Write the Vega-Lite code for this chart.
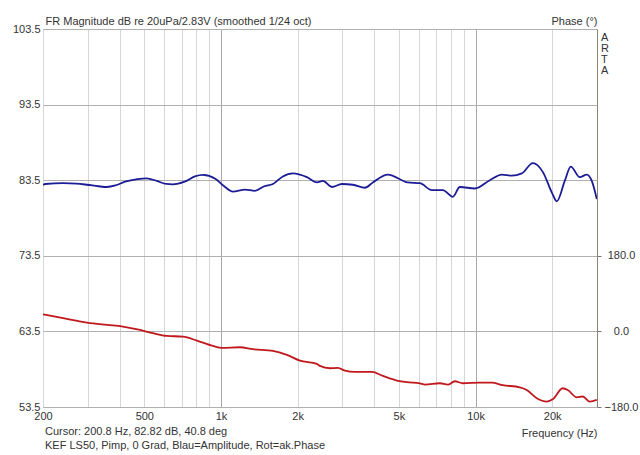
{
  "$schema": "https://vega.github.io/schema/vega-lite/v6.json",
  "width": 554,
  "height": 378,
  "autosize": "none",
  "padding": {"left": 43, "top": 29, "right": 43, "bottom": 48},
  "background": "white",
  "config": {
    "font": "Liberation Sans",
    "view": {"stroke": "#8a846c", "strokeWidth": 1},
    "axis": {"labelFont": "Liberation Sans", "titleFont": "Liberation Sans", "labelFontSize": 11, "titleFontSize": 11, "labelColor": "#333", "titleColor": "#333", "titleFontWeight": "normal", "domain": false}
  },
  "title": {
    "text": ["Cursor: 200.8 Hz, 82.82 dB, 40.8 deg", "KEF LS50, Pimp, 0 Grad, Blau=Amplitude, Rot=ak.Phase"],
    "orient": "bottom", "anchor": "start", "frame": "group", "offset": -12, "dx": 2,
    "fontSize": 11, "fontWeight": "normal", "color": "#333", "font": "Liberation Sans", "lineHeight": 14
  },
  "datasets": {
    "mag": [
      {"f": 200, "db": 82.85}, {"f": 204, "db": 83.0}, {"f": 240, "db": 83.1}, {"f": 270, "db": 83.05},
      {"f": 298, "db": 82.9}, {"f": 330, "db": 82.7}, {"f": 356, "db": 82.6}, {"f": 385, "db": 82.8},
      {"f": 420, "db": 83.3}, {"f": 470, "db": 83.65}, {"f": 511, "db": 83.75}, {"f": 560, "db": 83.4},
      {"f": 610, "db": 83.0}, {"f": 648, "db": 82.95}, {"f": 720, "db": 83.3}, {"f": 790, "db": 84.0},
      {"f": 850, "db": 84.2}, {"f": 950, "db": 83.7}, {"f": 1030, "db": 82.7}, {"f": 1114, "db": 82.0},
      {"f": 1242, "db": 82.25}, {"f": 1360, "db": 82.1}, {"f": 1480, "db": 82.7}, {"f": 1600, "db": 83.0},
      {"f": 1750, "db": 84.0}, {"f": 1917, "db": 84.4}, {"f": 2176, "db": 83.9}, {"f": 2381, "db": 83.2},
      {"f": 2515, "db": 83.4}, {"f": 2728, "db": 82.6}, {"f": 2986, "db": 83.0}, {"f": 3297, "db": 82.9},
      {"f": 3676, "db": 82.5}, {"f": 3950, "db": 83.2}, {"f": 4524, "db": 84.25}, {"f": 5421, "db": 83.2},
      {"f": 6042, "db": 83.1}, {"f": 6737, "db": 82.2}, {"f": 7441, "db": 82.2}, {"f": 8144, "db": 81.3},
      {"f": 8677, "db": 82.6}, {"f": 9936, "db": 82.4}, {"f": 11378, "db": 83.5}, {"f": 12684, "db": 84.25},
      {"f": 13880, "db": 84.1}, {"f": 15196, "db": 84.4}, {"f": 16783, "db": 85.75}, {"f": 18372, "db": 84.6},
      {"f": 19928, "db": 81.9}, {"f": 20855, "db": 80.7}, {"f": 22413, "db": 83.4}, {"f": 23666, "db": 85.3},
      {"f": 25673, "db": 83.9}, {"f": 27351, "db": 84.25}, {"f": 28617, "db": 83.4}, {"f": 29944, "db": 81.0}
    ],
    "phase": [
      {"f": 200, "deg": 40.8}, {"f": 240, "deg": 31.4}, {"f": 298, "deg": 21}, {"f": 357, "deg": 15.5},
      {"f": 412, "deg": 11.5}, {"f": 481, "deg": 3.6}, {"f": 541, "deg": -4.3}, {"f": 614, "deg": -10.7},
      {"f": 709, "deg": -12.4}, {"f": 805, "deg": -21.9}, {"f": 930, "deg": -34.6}, {"f": 1009, "deg": -39.3},
      {"f": 1187, "deg": -37.7}, {"f": 1335, "deg": -42.4}, {"f": 1600, "deg": -46.5}, {"f": 1816, "deg": -56},
      {"f": 2042, "deg": -69.6}, {"f": 2381, "deg": -77.5}, {"f": 2448, "deg": -82.2}, {"f": 2679, "deg": -87.7},
      {"f": 2880, "deg": -87}, {"f": 3068, "deg": -93.4}, {"f": 3357, "deg": -96.5}, {"f": 3915, "deg": -96.5},
      {"f": 4324, "deg": -106}, {"f": 4907, "deg": -117}, {"f": 5372, "deg": -121}, {"f": 6042, "deg": -123.5},
      {"f": 6322, "deg": -126.8}, {"f": 7242, "deg": -123.5}, {"f": 7785, "deg": -126.8}, {"f": 8293, "deg": -118.7},
      {"f": 8915, "deg": -123.5}, {"f": 10394, "deg": -122}, {"f": 11586, "deg": -122}, {"f": 12798, "deg": -128},
      {"f": 14922, "deg": -133}, {"f": 15897, "deg": -139.5}, {"f": 17401, "deg": -159}, {"f": 19048, "deg": -167},
      {"f": 20110, "deg": -161.6}, {"f": 22007, "deg": -135.4}, {"f": 23030, "deg": -139.5}, {"f": 24982, "deg": -157},
      {"f": 26377, "deg": -155}, {"f": 28103, "deg": -167}, {"f": 29944, "deg": -163}
    ]
  },
  "layer": [
    {
      "layer": [
        {
          "data": {"name": "mag"},
          "mark": {"type": "line", "color": "#1c1c96", "strokeWidth": 1.8, "interpolate": "monotone", "clip": true},
          "encoding": {
            "x": {"field": "f", "type": "quantitative",
              "scale": {"type": "log", "domain": [200, 30000], "nice": false},
              "axis": {
                "values": [200, 300, 400, 500, 600, 700, 800, 900, 1000, 2000, 3000, 4000, 5000, 6000, 7000, 8000, 9000, 10000, 20000],
                "labelExpr": "indexof([200,500,1000,2000,5000,10000,20000], datum.value) >= 0 ? (datum.value >= 1000 ? (datum.value/1000) + 'k' : '' + datum.value) : ''",
                "grid": true,
                "gridColor": {"condition": {"test": "datum.value == 1000 || datum.value == 10000", "value": "#a8a8a8"}, "value": "#d6d6d6"},
                "gridWidth": 1,
                "ticks": false, "labelPadding": 3, "labelFlush": false,
                "title": "Frequency (Hz)", "titleAnchor": "end", "titleAlign": "right", "titleBaseline": "alphabetic",
                "titleX": 554, "titleY": 29
              }},
            "y": {"field": "db", "type": "quantitative",
              "scale": {"domain": [53.5, 103.5], "nice": false, "zero": false},
              "axis": {
                "values": [53.5, 63.5, 73.5, 83.5, 93.5, 103.5],
                "format": ".1f", "grid": true, "gridColor": "#b0b0b0", "ticks": false, "labelPadding": 3,
                "title": "FR Magnitude dB re 20uPa/2.83V (smoothed 1/24 oct)",
                "titleAngle": 0, "titleAlign": "left", "titleBaseline": "alphabetic", "titleX": 2, "titleY": -5
              }}
          }
        },
        {
          "data": {"values": [{}]},
          "mark": {"type": "text", "text": "A\nR\nT\nA", "lineBreak": "\n", "align": "left", "baseline": "top", "dx": 4, "dy": 3, "fontSize": 11, "lineHeight": 11, "color": "#333", "font": "Liberation Sans"},
          "encoding": {
            "x": {"datum": 30000, "type": "quantitative"},
            "y": {"datum": 103.5, "type": "quantitative"}
          }
        }
      ]
    },
    {
      "data": {"name": "phase"},
      "mark": {"type": "line", "color": "#c0181c", "strokeWidth": 1.8, "interpolate": "monotone", "clip": true},
      "encoding": {
        "x": {"field": "f", "type": "quantitative"},
        "y": {"field": "deg", "type": "quantitative",
          "scale": {"domain": [-180, 720], "nice": false, "zero": false},
          "axis": {
            "orient": "right", "values": [-180, 0, 180], "format": ".1f", "grid": false,
            "ticks": true, "tickSize": 4, "tickColor": "#777", "labelPadding": 20, "labelAlign": "center",
            "title": "Phase (°)", "titleAngle": 0, "titleAlign": "right", "titleBaseline": "alphabetic",
            "titleX": 0, "titleY": -5
          }}
      }
    }
  ],
  "resolve": {"scale": {"y": "independent"}}
}
